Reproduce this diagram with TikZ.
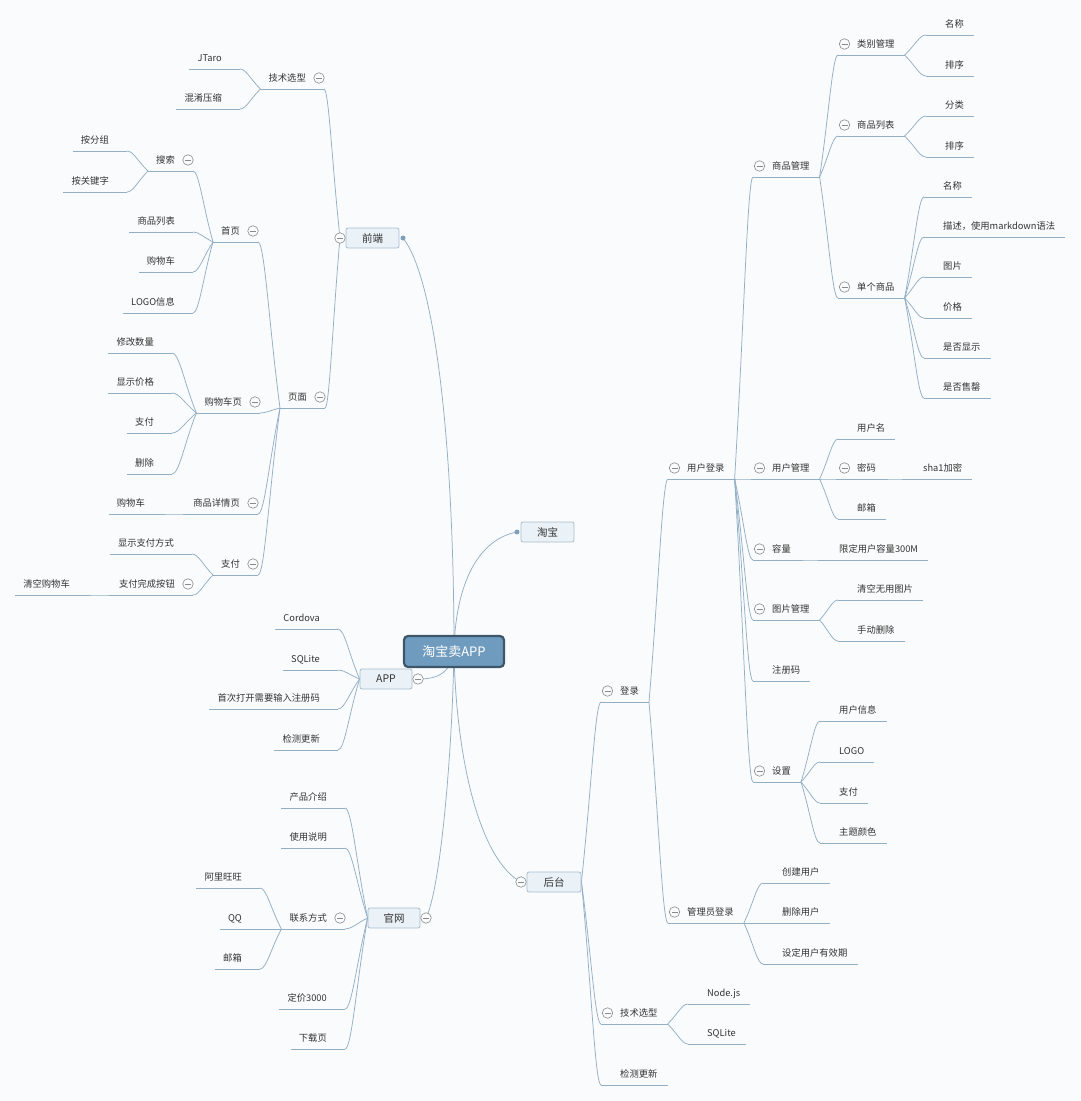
\documentclass[tikz,border=0pt]{standalone}
\usepackage{fontspec}
\newfontfamily\cjk{Noto Sans CJK SC}
\usetikzlibrary{calc}
\definecolor{bgc}{HTML}{FAFBFC}
\definecolor{ln}{HTML}{93AFC6}
\definecolor{tx}{HTML}{333333}
\definecolor{btnc}{HTML}{8A8A8A}
\definecolor{boxf}{HTML}{EAF1F7}
\definecolor{boxd}{HTML}{A8BED0}
\definecolor{rootf}{HTML}{6F9BBE}
\definecolor{rootd}{HTML}{3E566A}
\definecolor{dotc}{HTML}{7FA0BC}
\pgfdeclarelayer{bgfill}
\pgfdeclarelayer{back}
\pgfsetlayers{bgfill,back,main}
\tikzset{
  conn/.style={draw=ln, line width=0.75pt},
  ul/.style={draw=ln, line width=0.75pt},
  txt/.style={inner sep=0pt, font=\cjk\fontsize{9.3}{11}\selectfont, text=tx},
  btn/.style={circle, draw=btnc, fill=bgc, line width=0.6pt, minimum size=10.5pt, inner sep=0pt,
    path picture={\draw[btnc, line width=0.6pt] ([xshift=-3pt]path picture bounding box.center) -- ([xshift=3pt]path picture bounding box.center);}},
  dotn/.style={circle, fill=dotc, minimum size=5pt, inner sep=0pt},
  mainbox/.style={rectangle, rounded corners=2pt, fill=boxf, draw=boxd, line width=0.8pt,
    minimum width=53pt, minimum height=20pt, inner sep=0pt, font=\cjk\fontsize{10.5}{12}\selectfont, text=tx},
  rootbox/.style={rectangle, rounded corners=4pt, fill=rootf, draw=rootd, line width=2.2pt,
    minimum width=100pt, minimum height=31pt, inner sep=0pt, font=\cjk\fontsize{13}{15}\selectfont, text=white}
}
% left-side topic: name, right x, underline y, text
\newcommand\TopL[4]{%
  \coordinate (#1-r) at (#2,#3);
  \node[txt, anchor=base east] (#1) at ([xshift=-18pt,yshift=7.5pt]#1-r) {#4};
  \coordinate (#1-l) at ($(#1.west |- #1-r)+(-8pt,0)$);
  \draw[ul] (#1-l) -- (#1-r);
}
% right-side topic: name, left x, underline y, text
\newcommand\TopR[4]{%
  \coordinate (#1-l) at (#2,#3);
  \node[txt, anchor=base west] (#1) at ([xshift=19pt,yshift=7.5pt]#1-l) {#4};
  \coordinate (#1-r) at ($(#1.east |- #1-l)+(10pt,0)$);
  \draw[ul] (#1-l) -- (#1-r);
}
\newcommand\BtnL[1]{\node[btn] (#1-b) at ($(#1-r)+(-5pt,11pt)$) {};}
\newcommand\BtnR[1]{\node[btn] (#1-b) at ($(#1-l)+(6.5pt,11pt)$) {};}
\newcommand\Conn[2]{\draw[conn] let \p1=(#1), \p2=(#2) in (\p1) .. controls ({\x1+0.5*(\x2-\x1)},{\y1+0.5*(\y2-\y1)}) and ({\x2-0.3*(\x2-\x1)},\y2) .. (\p2);}

\begin{document}
\begin{tikzpicture}[x=1pt,y=-1pt]
\useasboundingbox (0,0) rectangle (1080,1101);
\begin{pgfonlayer}{bgfill}
  \fill[bgc] (0,0) rectangle (1080,1101);
\end{pgfonlayer}

% ---------- central and main nodes ----------
\node[rootbox] (rt) at (454,651.5) {淘宝卖APP};
\node[mainbox] (qd) at (372.5,238) {前端};
\node[mainbox] (tb) at (547.5,532) {淘宝};
\node[mainbox, minimum width=52pt] (app) at (386,679) {APP};
\node[mainbox, minimum width=52pt] (gw) at (394,918) {官网};
\node[mainbox, minimum width=54pt] (ht) at (554,882) {后台};
\node[btn] (qd-b) at (340,238) {};
\node[dotn] (qd-d) at (403,238) {};
\node[dotn] (tb-d) at (517,532) {};
\node[btn] (app-b) at (418,679) {};
\node[btn] (gw-b) at (426,918) {};
\node[btn] (ht-b) at (521,882) {};

% ---------- 前端 ----------
\TopL{fjs}{324}{89}{技术选型} \BtnL{fjs}
\TopL{jtaro}{240}{69}{JTaro}
\TopL{hxys}{240}{109}{混淆压缩}
\TopL{ym}{325}{408}{页面} \BtnL{ym}
\TopL{sy}{258}{242}{首页} \BtnL{sy}
\TopL{gwcy}{260}{413}{购物车页} \BtnL{gwcy}
\TopL{spxq}{258}{514}{商品详情页} \BtnL{spxq}
\TopL{zf}{258}{575}{支付} \BtnL{zf}
\TopL{ss}{193}{171}{搜索} \BtnL{ss}
\TopL{splb}{193}{232}{商品列表}
\TopL{gwc}{193}{272}{购物车}
\TopL{logo}{193}{313}{LOGO信息}
\TopL{afz}{127}{151}{按分组}
\TopL{agjz}{127}{192}{按关键字}
\TopL{xgsl}{172}{353}{修改数量}
\TopL{xsjg}{172}{393}{显示价格}
\TopL{zfb}{172}{433}{支付}
\TopL{sc}{172}{474}{删除}
\TopL{gwcb}{163}{514}{购物车}
\TopL{xszffs}{192}{554}{显示支付方式}
\TopL{zfwc}{193}{595}{支付完成按钮} \BtnL{zfwc}
\TopL{qkgwc}{88}{595}{清空购物车}

% ---------- APP ----------
\TopL{cdv}{338}{629}{Cordova}
\TopL{sqla}{338}{670}{SQLite}
\TopL{sczc}{338}{709}{首次打开需要输入注册码}
\TopL{jcgxa}{338}{750}{检测更新}

% ---------- 官网 ----------
\TopL{cpjs}{345}{808}{产品介绍}
\TopL{sysm}{345}{848}{使用说明}
\TopL{lxfs}{345}{929}{联系方式} \BtnL{lxfs}
\TopL{dj}{345}{1009}{定价3000}
\TopL{xzy}{345}{1049}{下载页}
\TopL{alww}{260}{888}{阿里旺旺}
\TopL{qq}{260}{929}{QQ}
\TopL{yxa}{260}{969}{邮箱}

% ---------- 后台 ----------
\TopR{dl}{601}{702}{登录} \BtnR{dl}
\TopR{hjs}{601}{1024}{技术选型} \BtnR{hjs}
\TopR{hjc}{601}{1085}{检测更新}
\TopR{yhdl}{668}{479}{用户登录} \BtnR{yhdl}
\TopR{glydl}{668}{923}{管理员登录} \BtnR{glydl}
\TopR{spgl}{753}{177}{商品管理} \BtnR{spgl}
\TopR{yhgl}{753}{479}{用户管理} \BtnR{yhgl}
\TopR{rl}{753}{560}{容量} \BtnR{rl}
\TopR{tpgl}{753}{620}{图片管理} \BtnR{tpgl}
\TopR{zcm}{753}{681}{注册码}
\TopR{sz}{753}{782}{设置} \BtnR{sz}
\TopR{lbgl}{838}{55}{类别管理} \BtnR{lbgl}
\TopR{splbr}{838}{136}{商品列表} \BtnR{splbr}
\TopR{dgsp}{838}{298}{单个商品} \BtnR{dgsp}
\TopR{mca}{926}{35}{名称}
\TopR{pxa}{926}{76}{排序}
\TopR{fl}{926}{116}{分类}
\TopR{pxb}{926}{157}{排序}
\TopR{mcb}{924}{197}{名称}
\TopR{ms}{924}{237}{描述，使用markdown语法}
\TopR{tp}{924}{277}{图片}
\TopR{jg}{924}{318}{价格}
\TopR{sfxs}{924}{358}{是否显示}
\TopR{sfsq}{924}{398}{是否售罄}
\TopR{yhm}{838}{439}{用户名}
\TopR{mm}{838}{479}{密码} \BtnR{mm}
\TopR{yxb}{838}{519}{邮箱}
\TopR{sha}{904}{479}{sha1加密}
\TopR{xdrl}{820}{560}{限定用户容量300M}
\TopR{qkwy}{838}{600}{清空无用图片}
\TopR{sdsc}{838}{641}{手动删除}
\TopR{yhxx}{820}{721}{用户信息}
\TopR{logob}{820}{762}{LOGO}
\TopR{zfc}{820}{803}{支付}
\TopR{ztys}{820}{843}{主题颜色}
\TopR{cjyh}{763}{883}{创建用户}
\TopR{scyh}{763}{923}{删除用户}
\TopR{sdyx}{763}{964}{设定用户有效期}
\TopR{nodejs}{688}{1004}{Node.js}
\TopR{sqlb}{688}{1044}{SQLite}

% ---------- connectors ----------
\begin{pgfonlayer}{back}
  \draw[conn] (rt.center) .. controls (454,450) and (436,280) .. (qd-d.center);
  \draw[conn] (rt.center) .. controls (455,590) and (475,540) .. (tb-d.center);
  \draw[conn] (rt.center) .. controls (450,672) and (440,679) .. (app-b.center);
  \draw[conn] (rt.center) .. controls (452,760) and (440,890) .. (gw-b.center);
  \draw[conn] (rt.center) .. controls (456,760) and (480,860) .. (ht-b.center);

  \Conn{qd-b}{fjs-r} \Conn{qd-b}{ym-r}
  \Conn{fjs-l}{jtaro-r} \Conn{fjs-l}{hxys-r}
  \Conn{ym-l}{sy-r} \Conn{ym-l}{gwcy-r} \Conn{ym-l}{spxq-r} \Conn{ym-l}{zf-r}
  \Conn{sy-l}{ss-r} \Conn{sy-l}{splb-r} \Conn{sy-l}{gwc-r} \Conn{sy-l}{logo-r}
  \Conn{ss-l}{afz-r} \Conn{ss-l}{agjz-r}
  \Conn{gwcy-l}{xgsl-r} \Conn{gwcy-l}{xsjg-r} \Conn{gwcy-l}{zfb-r} \Conn{gwcy-l}{sc-r}
  \Conn{spxq-l}{gwcb-r}
  \Conn{zf-l}{xszffs-r} \Conn{zf-l}{zfwc-r}
  \Conn{zfwc-l}{qkgwc-r}

  \Conn{app.west}{cdv-r} \Conn{app.west}{sqla-r} \Conn{app.west}{sczc-r} \Conn{app.west}{jcgxa-r}

  \Conn{gw.west}{cpjs-r} \Conn{gw.west}{sysm-r} \Conn{gw.west}{lxfs-r} \Conn{gw.west}{dj-r} \Conn{gw.west}{xzy-r}
  \Conn{lxfs-l}{alww-r} \Conn{lxfs-l}{qq-r} \Conn{lxfs-l}{yxa-r}

  \Conn{ht.east}{dl-l} \Conn{ht.east}{hjs-l} \Conn{ht.east}{hjc-l}
  \Conn{dl-r}{yhdl-l} \Conn{dl-r}{glydl-l}
  \Conn{yhdl-r}{spgl-l} \Conn{yhdl-r}{yhgl-l} \Conn{yhdl-r}{rl-l} \Conn{yhdl-r}{tpgl-l} \Conn{yhdl-r}{zcm-l} \Conn{yhdl-r}{sz-l}
  \Conn{spgl-r}{lbgl-l} \Conn{spgl-r}{splbr-l} \Conn{spgl-r}{dgsp-l}
  \Conn{lbgl-r}{mca-l} \Conn{lbgl-r}{pxa-l}
  \Conn{splbr-r}{fl-l} \Conn{splbr-r}{pxb-l}
  \Conn{dgsp-r}{mcb-l} \Conn{dgsp-r}{ms-l} \Conn{dgsp-r}{tp-l} \Conn{dgsp-r}{jg-l} \Conn{dgsp-r}{sfxs-l} \Conn{dgsp-r}{sfsq-l}
  \Conn{yhgl-r}{yhm-l} \Conn{yhgl-r}{mm-l} \Conn{yhgl-r}{yxb-l}
  \Conn{mm-r}{sha-l}
  \Conn{rl-r}{xdrl-l}
  \Conn{tpgl-r}{qkwy-l} \Conn{tpgl-r}{sdsc-l}
  \Conn{sz-r}{yhxx-l} \Conn{sz-r}{logob-l} \Conn{sz-r}{zfc-l} \Conn{sz-r}{ztys-l}
  \Conn{glydl-r}{cjyh-l} \Conn{glydl-r}{scyh-l} \Conn{glydl-r}{sdyx-l}
  \Conn{hjs-r}{nodejs-l} \Conn{hjs-r}{sqlb-l}
\end{pgfonlayer}
\end{tikzpicture}
\end{document}
